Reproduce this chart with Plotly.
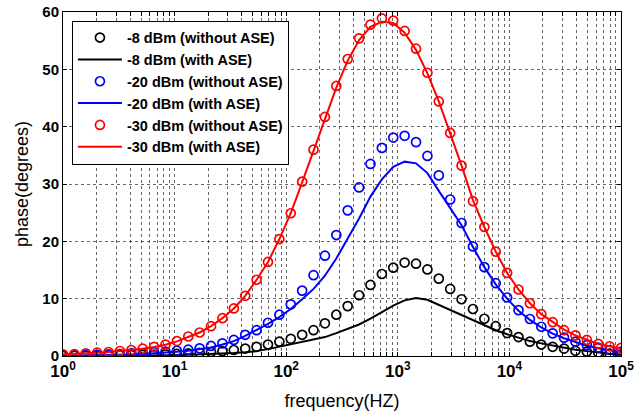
import numpy as np
import plotly.graph_objects as go

# 50 log-spaced frequencies, 1 Hz .. 100 kHz
freq = np.logspace(0, 5, 50)

# -8 dBm
black_pts = [0.03, 0.04, 0.05, 0.07, 0.09, 0.11, 0.14, 0.18, 0.23, 0.29,
             0.36, 0.45, 0.55, 0.7, 0.85, 1.05, 1.3, 1.6, 2.0, 2.5,
             3.0, 3.7, 4.5, 5.7, 7.2, 8.7, 10.6, 12.4, 14.3, 15.4,
             16.3, 16.1, 15.1, 13.5, 11.7, 9.9, 8.2, 6.5, 5.2, 4.0,
             3.3, 2.5, 2.0, 1.6, 1.3, 0.9, 0.75, 0.58, 0.4, 0.3]
black_line = [0.01, 0.015, 0.02, 0.025, 0.03, 0.04, 0.05, 0.065, 0.08, 0.1,
              0.15, 0.2, 0.26, 0.33, 0.42, 0.52, 0.65, 0.85, 1.2, 1.6,
              2.0, 2.5, 2.9, 3.3, 4.0, 4.7, 5.5, 6.5, 7.6, 8.8,
              9.7, 10.1, 9.8, 8.9, 8.0, 7.2, 6.2, 5.3, 4.5, 3.8,
              3.2, 2.6, 2.2, 1.8, 1.4, 1.1, 0.85, 0.6, 0.4, 0.25]

# -20 dBm
blue_pts = [0.12, 0.12, 0.17, 0.22, 0.3, 0.35, 0.47, 0.52, 0.65, 0.75,
            0.92, 1.1, 1.34, 1.75, 2.2, 2.8, 3.7, 4.5, 5.8, 7.2,
            9.0, 11.4, 14.1, 17.5, 21.1, 25.4, 29.4, 33.5, 36.3, 38.1,
            38.4, 37.3, 34.9, 31.5, 27.3, 23.2, 19.1, 15.5, 12.7, 10.2,
            8.0, 6.45, 5.1, 3.95, 3.2, 2.5, 1.9, 1.45, 1.05, 0.75]
blue_line = [0.05, 0.07, 0.1, 0.13, 0.17, 0.22, 0.28, 0.36, 0.46, 0.58,
             0.72, 0.9, 1.15, 1.5, 2.0, 2.6, 3.5, 4.5, 5.6, 6.8,
             8.2, 9.9, 11.7, 14.0, 17.0, 20.5, 24.0, 27.8, 30.8, 33.0,
             33.9, 33.6, 31.9, 28.8, 25.8, 22.8, 19.0, 15.5, 12.5, 10.0,
             7.9, 6.3, 5.0, 3.9, 3.1, 2.4, 1.8, 1.4, 1.0, 0.75]

# -30 dBm
red_pts = [0.3, 0.35, 0.47, 0.58, 0.7, 0.87, 1.05, 1.27, 1.6, 2.0,
           2.6, 3.4, 4.1, 5.2, 6.6, 8.3, 10.5, 13.3, 16.4, 20.4,
           24.9, 30.4, 36.0, 41.7, 47.1, 51.8, 55.4, 57.8, 58.9, 58.5,
           56.7, 53.6, 49.4, 44.4, 38.9, 33.2, 27.0, 22.5, 18.2, 14.5,
           11.6, 9.2, 7.3, 5.9, 4.5, 3.6, 2.8, 2.1, 1.7, 1.4]
red_line = [0.3, 0.35, 0.45, 0.56, 0.68, 0.84, 1.02, 1.25, 1.57, 1.97,
            2.55, 3.35, 4.1, 5.2, 6.6, 8.3, 10.5, 13.3, 16.4, 20.4,
            24.9, 30.3, 35.8, 41.4, 46.8, 51.5, 55.1, 57.4, 58.3, 58.1,
            56.4, 53.4, 49.3, 44.4, 38.9, 33.2, 27.2, 22.5, 18.2, 14.5,
            11.6, 9.2, 7.3, 5.9, 4.6, 3.6, 2.8, 2.1, 1.7, 1.3]

series = [
    ("-8 dBm (without ASE)", black_pts, "markers", "black"),
    ("-8 dBm (with ASE)", black_line, "lines", "black"),
    ("-20 dBm (without ASE)", blue_pts, "markers", "#0000ff"),
    ("-20 dBm (with ASE)", blue_line, "lines", "#0000ff"),
    ("-30 dBm (without ASE)", red_pts, "markers", "#ff0000"),
    ("-30 dBm (with ASE)", red_line, "lines", "#ff0000"),
]

FONT = "Liberation Sans, Arial, sans-serif"

fig = go.Figure()
for name, vals, mode, color in series:
    if mode == "markers":
        fig.add_trace(go.Scatter(
            x=freq, y=vals, mode="markers", name=name,
            marker=dict(symbol="circle-open", size=9, color=color,
                        line=dict(color=color, width=1.7)),
        ))
    else:
        fig.add_trace(go.Scatter(
            x=freq, y=vals, mode="lines", name=name,
            line=dict(color=color, width=2),
        ))

# log grid: every 1..9 multiple, labels only at decades
tickvals, ticktext = [], []
for d in range(6):
    for m in range(1, 10):
        v = m * 10 ** d
        if v > 1e5:
            break
        tickvals.append(v)
        ticktext.append(f"<b>10<sup>{d}</sup></b>" if m == 1 else "")

fig.update_xaxes(
    type="log", range=[0, 5], automargin=False,
    tickvals=tickvals, ticktext=ticktext,
    ticks="inside", ticklen=4, tickcolor="black",
    showline=True, linecolor="black", linewidth=1, mirror="ticks",
    showgrid=True, gridcolor="rgba(0,0,0,0.6)", griddash="dot", gridwidth=1,
    tickfont=dict(family=FONT, size=17, color="black"),
    title=dict(text="frequency(HZ)", font=dict(family=FONT, size=18, color="black"),
               standoff=13),
    zeroline=False,
)
fig.update_yaxes(
    range=[0, 60], tickvals=[0, 10, 20, 30, 40, 50, 60], automargin=False,
    ticks="inside", ticklen=4, tickcolor="black",
    showline=True, linecolor="black", linewidth=1, mirror="ticks",
    showgrid=True, gridcolor="rgba(0,0,0,0.6)", griddash="dot", gridwidth=1,
    tickfont=dict(family=FONT, size=15, color="black", weight="bold"),
    title=dict(text="phase(degrees)", font=dict(family=FONT, size=18, color="black"),
               standoff=9),
    zeroline=False,
)

fig.update_layout(
    width=642, height=419,
    margin=dict(l=63, r=21, t=12, b=63),
    paper_bgcolor="white", plot_bgcolor="white",
    font=dict(family=FONT, color="black"),
    legend=dict(
        x=0.016, y=0.975, xanchor="left", yanchor="top",
        bgcolor="white", bordercolor="black", borderwidth=1,
        font=dict(family=FONT, size=14.5, color="black", weight="bold"),
        tracegroupgap=0, itemwidth=44,
    ),
)

fig.write_html("out.html", config={"displayModeBar": False},
               post_script="document.body.style.margin='0';")
